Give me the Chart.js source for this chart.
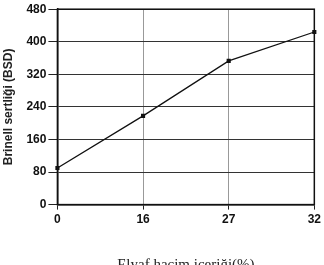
<!DOCTYPE html>
<html>
<head>
<meta charset="utf-8">
<script src="https://cdn.jsdelivr.net/npm/chart.js@4/dist/chart.umd.min.js"></script>
<style>
  html, body { margin: 0; padding: 0; background: #fff; }
  #wrap { width: 324px; height: 265px; position: relative; }
</style>
</head>
<body>
<div id="wrap"><canvas id="myChart"></canvas></div>
<script>
const labels = ["0", "16", "27", "32"]
const hardness = [90, 218, 353, 424]
const yTicks = [0, 80, 160, 240, 320, 400, 480]

const ctx = document.getElementById('myChart').getContext('2d')

const myChart = new Chart(ctx, {
    type: 'line',
    data: {
        labels: labels,
        datasets: [
            {
                label: "Brinell sertliği",
                data: hardness,
                borderColor: "#111",
                backgroundColor: "#111",
                borderWidth: 1.3,
                pointRadius: 2,
                pointStyle: 'rect',
                tension: 0,
            },
        ],
    },
    options: {
        responsive: true,
        maintainAspectRatio: false,
        animation: false,
        layout: { padding: { top: 7, right: -6, left: 1, bottom: -9 } },
        plugins: { legend: { display: false }, tooltip: { enabled: false } },
        scales: {
            x: {
                offset: false,
                grid: {
                    color: (c) => (c.index === 1 || c.index === 2) ? "#999" : "rgba(0,0,0,0)",
                    lineWidth: 1,
                    tickLength: 5,
                    tickColor: "#222",
                    drawTicks: true,
                },
                border: { display: true, color: "#111", width: 1.5 },
                ticks: {
                    color: "#111",
                    font: { family: "'Liberation Sans Narrow', 'Liberation Sans', Arial", size: 12, weight: 'bold' },
                    padding: 3,
                    maxRotation: 0,
                },
                title: {
                    display: true,
                    text: "Elyaf hacim içeriği(%)",
                    color: "#222",
                    font: { family: "'Liberation Serif', 'DejaVu Serif', serif", size: 15 },
                    padding: { top: 26, bottom: 0 },
                },
            },
            y: {
                min: 0,
                max: 480,
                afterBuildTicks: (axis) => { axis.ticks = yTicks.map(v => ({ value: v })) },
                grid: {
                    color: "#333",
                    lineWidth: 1,
                    tickLength: 9,
                    tickColor: "#222",
                },
                border: { display: true, color: "#111", width: 1.5 },
                ticks: {
                    color: "#111",
                    font: { family: "'Liberation Sans Narrow', 'Liberation Sans', Arial", size: 12, weight: 'bold' },
                    padding: 2,
                },
                title: {
                    display: true,
                    text: "Brinell sertliği (BSD)",
                    color: "#222",
                    font: { family: "'Liberation Sans', Arial", size: 12, weight: 'bold' },
                    padding: { top: 0, bottom: 9 },
                },
            },
        },
    },
    plugins: [{
        id: 'frame',
        afterDatasetsDraw(chart) {
            const a = chart.chartArea
            const c = chart.ctx
            c.save()
            c.strokeStyle = "#111"
            c.lineWidth = 1.5
            c.strokeRect(a.left, a.top, a.right - a.left, a.bottom - a.top)
            c.restore()
        }
    }],
});
</script>
</body>
</html>
